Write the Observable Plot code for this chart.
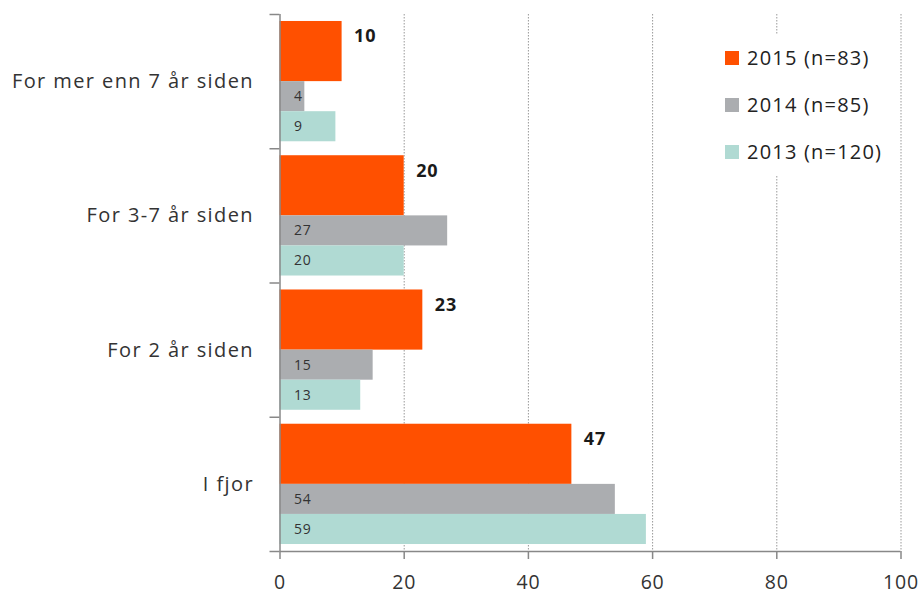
<!DOCTYPE html>
<html><head><meta charset="utf-8">
<script src="https://cdn.jsdelivr.net/npm/d3@7"></script>
<script src="https://cdn.jsdelivr.net/npm/@observablehq/plot@0.6"></script>
<style>
html,body{margin:0;padding:0;background:#fff;}
#chart{position:relative;width:924px;height:594px;}
</style>
</head><body><div id="chart"></div>
<script>
const categories = ["For mer enn 7 år siden", "For 3-7 år siden", "For 2 år siden", "I fjor"];
const series = ["2015 (n=83)", "2014 (n=85)", "2013 (n=120)"];
const v2015 = [10, 20, 23, 47];
const v2014 = [4, 27, 15, 54];
const v2013 = [9, 20, 13, 59];
const colors = ["#FF5000", "#ABADB0", "#B0DAD3"];
const xTicks = [0, 20, 40, 60, 80, 100];

const FONT = "'Open Sans', sans-serif";
// layout: fraction of each category band used by each series
const bandPos = [[0.052, 0.5], [0.5, 0.724], [0.724, 0.948]];
const valuesBySeries = [v2015, v2014, v2013];

const rows = [];
categories.forEach((c, i) => {
  series.forEach((s, k) => {
    rows.push({cat: c, i, series: s, k, value: valuesBySeries[k][i],
      y1: i + bandPos[k][0], y2: i + bandPos[k][1]});
  });
});
const catRows = categories.map((c, i) => ({cat: c, i}));

const chart = Plot.plot({
  width: 924, height: 594,
  marginLeft: 279.5, marginRight: 23.5, marginTop: 14, marginBottom: 43,
  style: {fontFamily: FONT, background: "#fff", overflow: "visible", letterSpacing: "0.8px"},
  x: {domain: [0, 100]},
  y: {domain: [0, 4], reverse: true},
  color: {domain: series, range: colors},
  marks: [
    Plot.ruleX(xTicks.filter(d => d > 0), {y1: 0, y2: 4, stroke: "#999", strokeWidth: 1, strokeDasharray: "1.5,1.5"}),
    Plot.rect(rows, {x1: 0, x2: "value", y1: "y1", y2: "y2", fill: "series"}),
    Plot.text(rows.filter(d => d.k === 0), {x: "value", y: d => d.i + 0.164, dx: 12, textAnchor: "start",
      text: d => String(d.value), fontWeight: "bold", fontSize: 18, fill: "#1a1a1a"}),
    Plot.text(rows.filter(d => d.k > 0), {x: 0, y: d => (d.y1 + d.y2) / 2, dx: 14, textAnchor: "start",
      text: d => String(d.value), fontSize: 14, fill: "#333"}),
    Plot.text(catRows, {x: 0, y: d => d.i + 0.5, dx: -26, textAnchor: "end", text: "cat", fontSize: 20, fill: "#333"}),
    Plot.axisY({ticks: [0, 1, 2, 3, 4], tickFormat: () => "", tickSize: 10, stroke: "#888", strokeWidth: 1.5}),
    Plot.ruleX([0], {stroke: "#888", strokeWidth: 1.5}),
    Plot.ruleY([4], {stroke: "#888", strokeWidth: 1.5}),
    Plot.axisX({ticks: xTicks, tickSize: 8, tickPadding: 16, fontSize: 19.5, stroke: "#888", strokeWidth: 1.5, fill: "#333", label: null})
  ]
});
document.getElementById("chart").appendChild(chart);

const svg = d3.select(chart);
// wider spacing on category labels, as in the reference
svg.selectAll("text").filter(function() { return categories.includes(this.textContent); })
  .style("letter-spacing", "1.4px");

// legend inside plot area
const g = svg.append("g").attr("font-family", FONT).attr("text-anchor", "start");
g.append("rect").attr("x", 712).attr("y", 35).attr("width", 186).attr("height", 140).attr("fill", "#fff");
series.forEach((s, k) => {
  const cy = 58 + k * 47;
  g.append("rect").attr("x", 725).attr("y", cy - 7).attr("width", 14).attr("height", 14).attr("fill", colors[k]);
  g.append("text").attr("x", 747).attr("y", cy).attr("dy", "0.35em").attr("text-anchor", "start")
    .attr("font-size", 20).style("letter-spacing", "1.2px").attr("fill", "#222").text(s);
});
</script>
</body></html>
